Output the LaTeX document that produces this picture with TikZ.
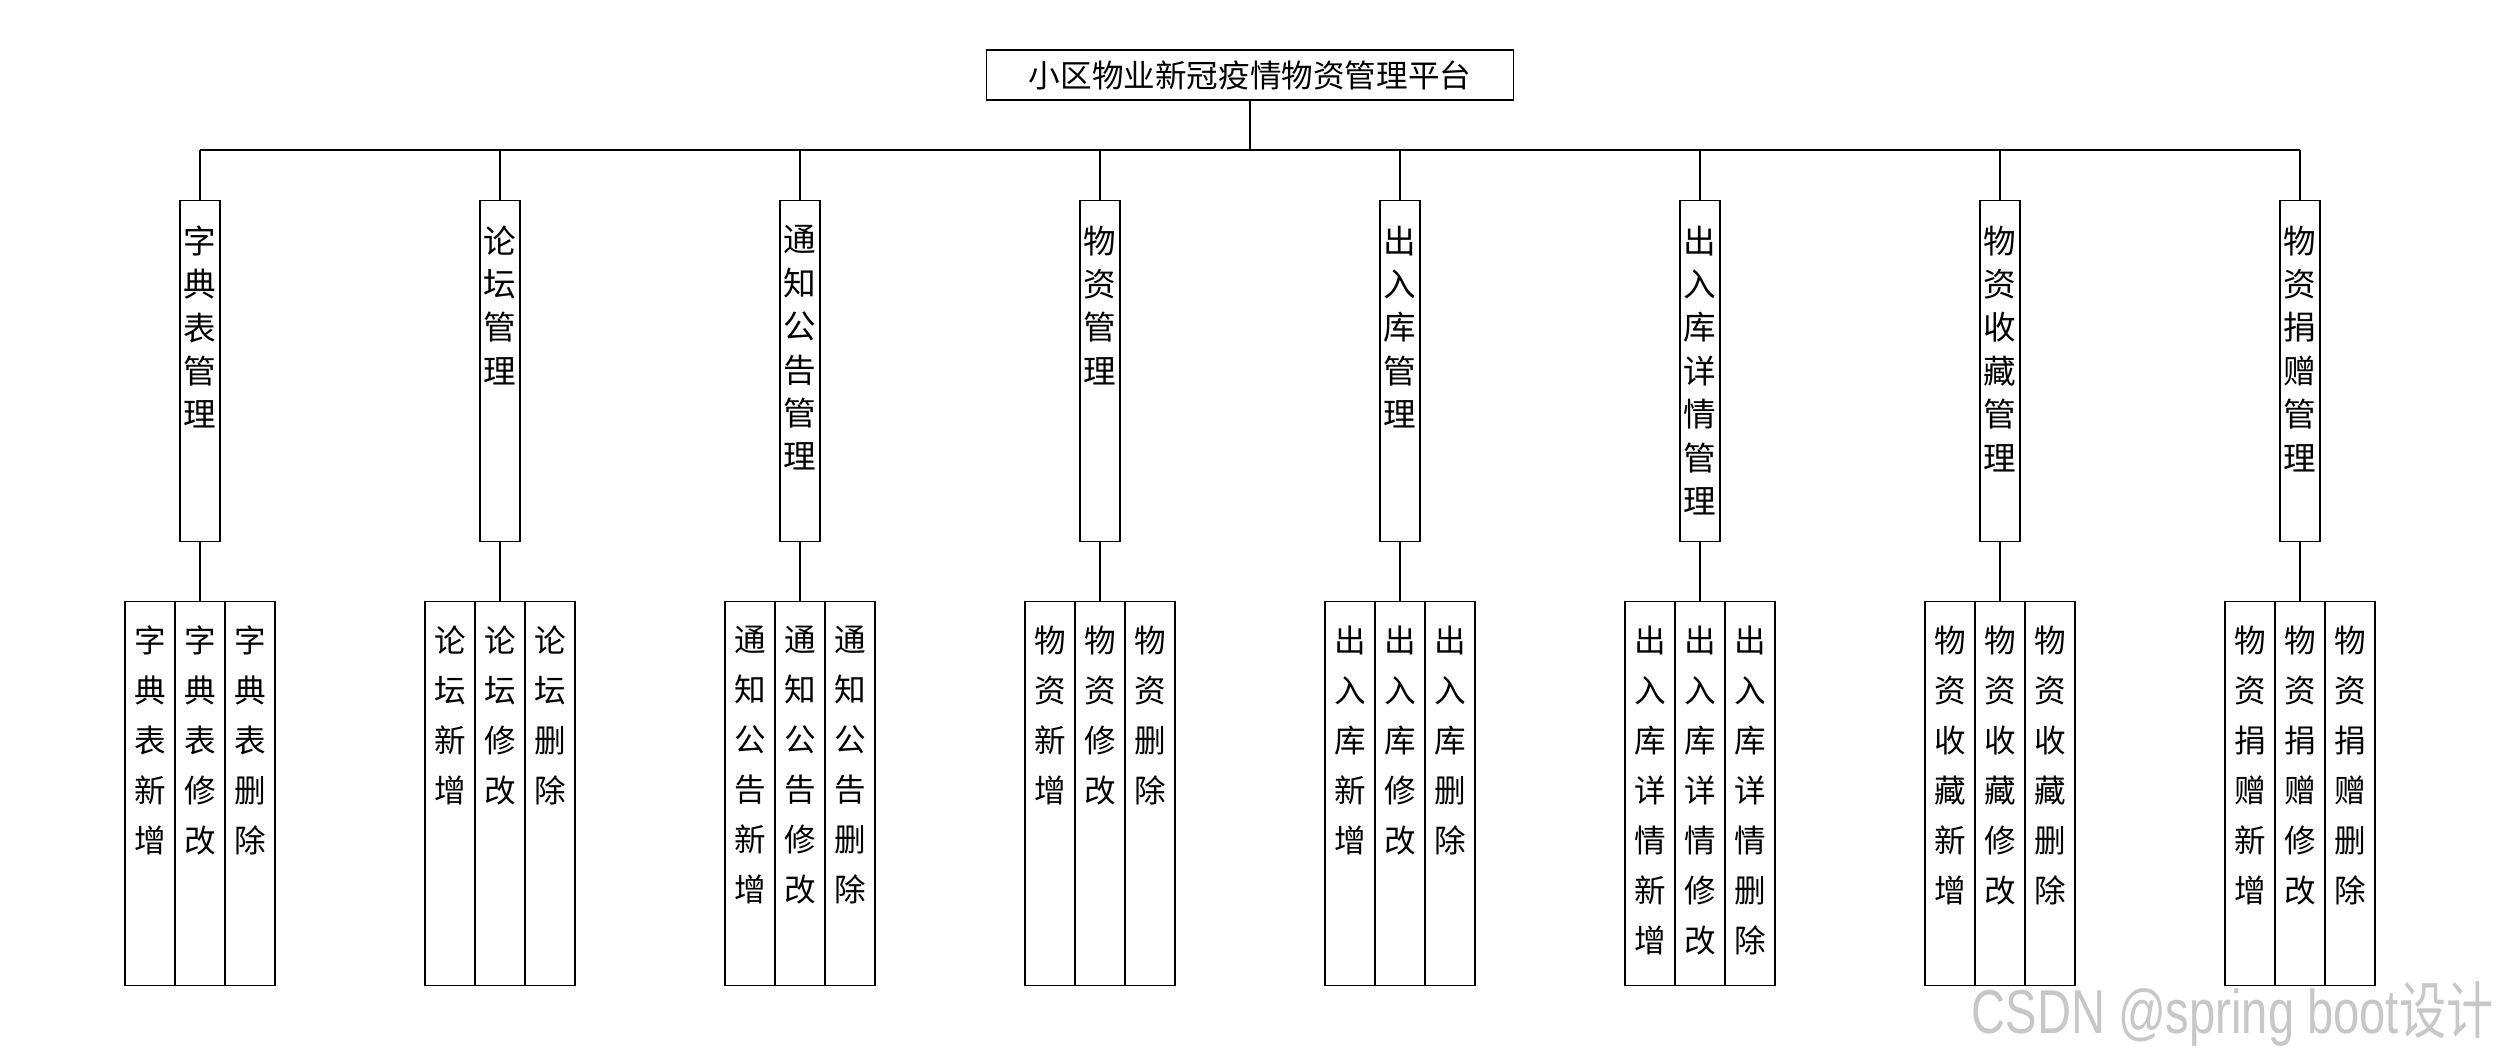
\documentclass[tikz,border=0pt]{standalone}
\usepackage{fontspec}
\setmainfont{Liberation Sans}
\newfontfamily\cjk{Noto Sans CJK SC}
\begin{document}
\begin{tikzpicture}[x=0.5pt,y=-0.5pt,line width=0.65pt,
  topbox/.style={draw,inner sep=0pt,minimum width=263.5pt,minimum height=25pt,
    font=\cjk\fontsize{15.8}{16}\selectfont},
  midbox/.style={draw,anchor=north,inner sep=0pt,minimum width=20pt,minimum height=170.5pt},
  midtext/.style={anchor=north,inner sep=0pt,align=center,
    font=\cjk\fontsize{16.3}{21.7}\selectfont},
  subbox/.style={draw,anchor=north,inner sep=0pt,minimum width=25pt,minimum height=192pt},
  subtext/.style={anchor=north,inner sep=0pt,align=center,
    font=\cjk\fontsize{15.8}{25}\selectfont},
  wmark/.style={anchor=base east,inner sep=0pt,text=black!22,
    font=\fontsize{31}{31}\selectfont}]
\useasboundingbox (0,0) rectangle (2500,1050);
\fill[white] (0,0) rectangle (2500,1050);
\node[topbox] (root) at (1250,75) {小区物业新冠疫情物资管理平台};
\coordinate (busL) at (200,150);
\coordinate (busR) at (2300,150);
\draw (root.south) -- (root.south |- busL);
\draw (busL) -- (busR);
\foreach \i/\mx/\lab/\pa in {
  1/200/{字\\典\\表\\管\\理}/{字\\典\\表},
  2/500/{论\\坛\\管\\理}/{论\\坛},
  3/800/{通\\知\\公\\告\\管\\理}/{通\\知\\公\\告},
  4/1100/{物\\资\\管\\理}/{物\\资},
  5/1400/{出\\入\\库\\管\\理}/{出\\入\\库},
  6/1700/{出\\入\\库\\详\\情\\管\\理}/{出\\入\\库\\详\\情},
  7/2000/{物\\资\\收\\藏\\管\\理}/{物\\资\\收\\藏},
  8/2300/{物\\资\\捐\\赠\\管\\理}/{物\\资\\捐\\赠}}{
  \node[midbox] (m\i) at (\mx,200) {};
  \node[midtext] (mt\i) at (\mx,225) {\lab};
  \draw (m\i.north) -- (m\i.north |- busL);
  \node[subbox] (s\i-a) at (\mx-50,601) {};
  \node[subbox] (s\i-b) at (\mx,601) {};
  \node[subbox] (s\i-c) at (\mx+50,601) {};
  \node[subtext] (st\i-a) at (\mx-50,625) {\pa\\新\\增};
  \node[subtext] (st\i-b) at (\mx,625) {\pa\\修\\改};
  \node[subtext] (st\i-c) at (\mx+50,625) {\pa\\删\\除};
  \draw (m\i.south) -- (s\i-b.north);
}
\node[wmark] (wm) at (2494,1033) {\scalebox{0.76}[1]{CSDN @spring boot{\cjk 设计}}};
\end{tikzpicture}
\end{document}
